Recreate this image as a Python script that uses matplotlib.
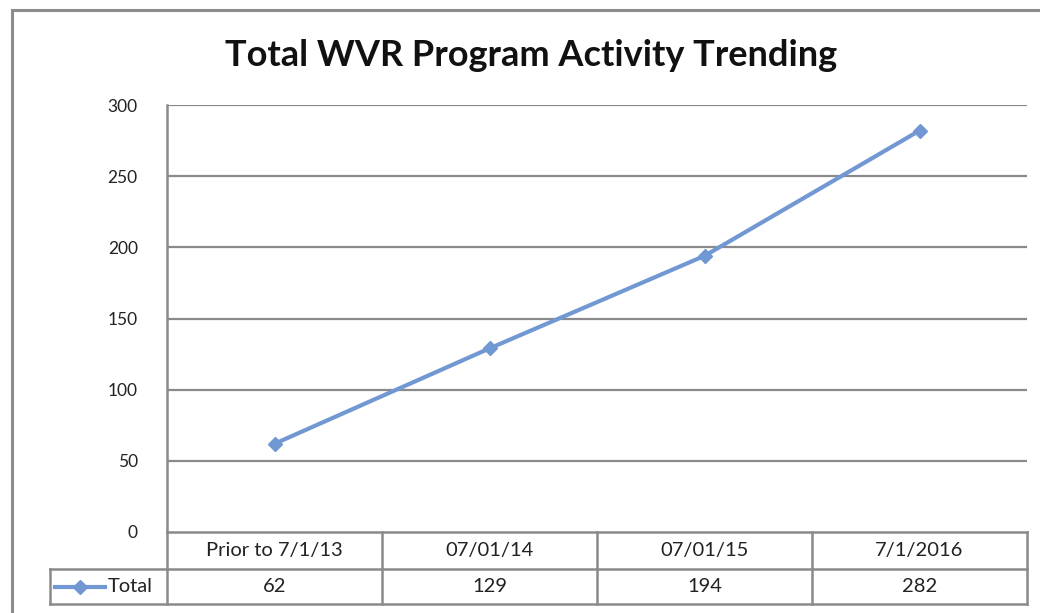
import matplotlib.pyplot as plt
from matplotlib.lines import Line2D
from matplotlib.patches import Rectangle

plt.rcParams['font.family'] = ['Lato', 'DejaVu Sans']

categories = ['Prior to 7/1/13', '07/01/14', '07/01/15', '7/1/2016']
totals = [62, 129, 194, 282]
series_name = 'Total'
yticks = [0, 50, 100, 150, 200, 250, 300]

W, H = 1040, 613
fig = plt.figure(figsize=(W / 100, H / 100), dpi=100)

# outer chart frame (runs off the right and bottom edge)
fig.add_artist(Rectangle((12 / W, -0.05), 1.1, 1.05 - 10 / H, transform=fig.transFigure,
                         fill=False, edgecolor='#8c8c8c', linewidth=2.2))

left, right, top, bottom = 167, 1027, 105, 532
ax = fig.add_axes([left / W, 1 - bottom / H, (right - left) / W, (bottom - top) / H])

x = list(range(len(categories)))
line_color = '#7298D3'
ax.plot(x, totals, color=line_color, linewidth=3, marker='D', markersize=7,
        markeredgecolor=line_color, zorder=3)

ax.set_xlim(-0.5, len(categories) - 0.5)
ax.set_ylim(0, 300)
ax.set_yticks(yticks)
ax.set_xticks([])
ax.tick_params(axis='y', length=0, pad=21, labelsize=12.5, labelcolor='#222222')
for t in yticks[1:]:
    ax.axhline(t, color='#8a8a8a', linewidth=1.6, zorder=1)
for s in ['top', 'right', 'bottom']:
    ax.spines[s].set_visible(False)
ax.spines['left'].set_color('#8a8a8a')
ax.spines['left'].set_linewidth(1.8)

# data table below the plot
ph = bottom - top
cw = (right - left) / 4
row1 = -37 / ph
row2 = -72 / ph
gc = '#8a8a8a'
tr = ax.get_xaxis_transform()
ax.add_line(Line2D([-0.5, 3.5], [0, 0], transform=tr, color=gc, lw=1.8, clip_on=False))
legend_x = -0.5 - (left - 50) / cw
ax.add_line(Line2D([legend_x, 3.5], [row1, row1], transform=tr, color=gc, lw=1.8, clip_on=False))
ax.add_line(Line2D([legend_x, 3.5], [row2, row2], transform=tr, color=gc, lw=1.8, clip_on=False))
ax.add_line(Line2D([legend_x, legend_x], [row1, row2], transform=tr, color=gc, lw=1.8, clip_on=False))
ax.add_line(Line2D([-0.5, -0.5], [0, row2], transform=tr, color=gc, lw=1.8, clip_on=False))
for b in [0.5, 1.5, 2.5, 3.5]:
    ax.add_line(Line2D([b, b], [0, row2], transform=tr, color=gc, lw=1.8, clip_on=False))
for i, (c, v) in enumerate(zip(categories, totals)):
    ax.text(i, row1 / 2, c, transform=tr, ha='center', va='center', fontsize=14.5, color='#222222')
    ax.text(i, (row1 + row2) / 2, str(v), transform=tr, ha='center', va='center', fontsize=14.5, color='#222222')

# legend key in table
ym = (row1 + row2) / 2
kx0 = legend_x + 5 / cw
kx1 = legend_x + 55 / cw
ax.add_line(Line2D([kx0, kx1], [ym, ym], transform=tr, color=line_color, lw=3, clip_on=False))
ax.add_line(Line2D([(kx0 + kx1) / 2], [ym], transform=tr, color=line_color, marker='D',
                   markersize=7, clip_on=False))
ax.text(kx1 + 3 / cw, ym, series_name, transform=tr, ha='left', va='center', fontsize=14.5, color='#222222')

fig.text(531 / W, 1 - 55 / H, 'Total WVR Program Activity Trending', ha='center', va='center',
         fontsize=26, fontweight='bold', color='#111111')

fig.savefig('out.png', dpi=100)
